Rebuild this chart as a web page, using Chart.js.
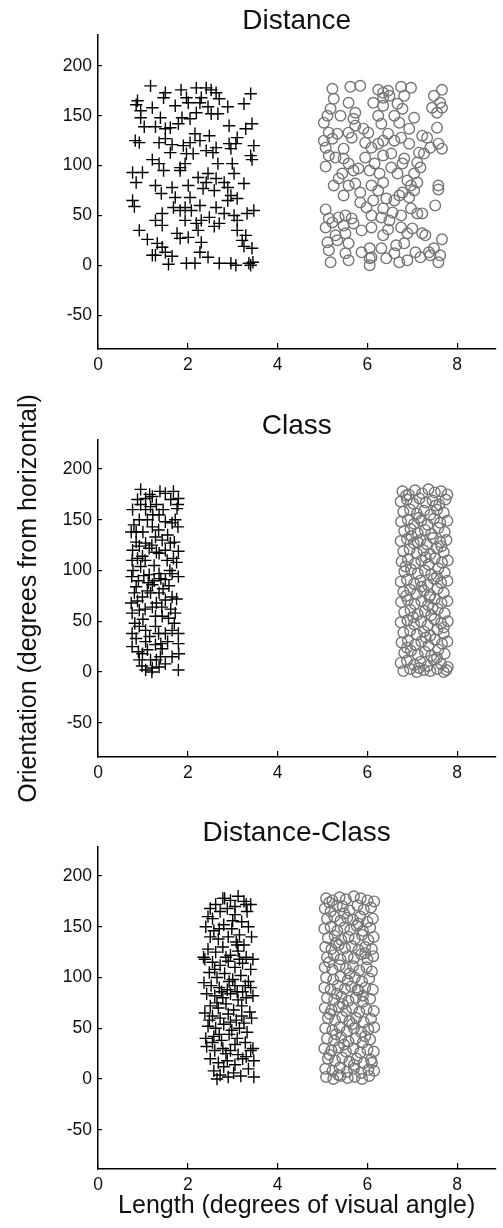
<!DOCTYPE html>
<html><head><meta charset="utf-8">
<script src="https://cdn.jsdelivr.net/npm/chart.js@4.4.1/dist/chart.umd.min.js"></script>
<style>
html,body{margin:0;padding:0;background:#fff;}
body{width:503px;height:1228px;position:relative;overflow:hidden;}
canvas{position:absolute;left:0;}
</style></head><body>
<canvas id="c1" width="503" height="385" style="top:0px;width:503px;height:385px"></canvas>
<canvas id="c2" width="503" height="425" style="top:385px;width:503px;height:425px"></canvas>
<canvas id="c3" width="503" height="438" style="top:790px;width:503px;height:438px"></canvas>
<script>
// ---- tick labels / titles ----
const panelTitles = ['Distance', 'Class', 'Distance-Class'];
const xTitle = 'Length (degrees of visual angle)';
const yTitle = 'Orientation (degrees from horizontal)';
const xTickStep = 2;
const yTickStep = 50;

// ---- data: [length, orientation] ----
const distanceShort = [[1.17,180],[1.50,173],[1.85,176],[2.19,178],[2.41,178],[2.52,176],[2.63,173],[3.40,172],[0.88,165],[1.46,168],[1.97,168],[2.30,168],[2.70,167],[3.25,162],[0.85,161],[1.21,158],[1.72,160],[2.01,163],[2.27,163],[2.45,159],[2.89,159],[0.95,155],[2.19,153],[2.52,152],[2.67,152],[1.87,148],[2.05,147],[0.95,148],[1.39,148],[1.03,139],[1.28,139],[1.61,138],[1.79,142],[2.92,140],[3.29,137],[3.43,142],[1.50,137],[2.16,132],[2.48,130],[3.10,128],[1.50,127],[1.36,123],[0.83,125],[0.92,123],[1.65,121],[1.90,120],[2.05,123],[2.27,125],[2.63,118],[2.92,122],[3.07,122],[3.47,120],[1.61,113],[2.41,115],[2.56,113],[2.96,117],[3.40,110],[1.97,112],[2.12,112],[1.21,106],[1.36,102],[1.46,95],[1.83,98],[1.94,102],[2.67,102],[2.99,102],[3.43,106],[0.77,93],[0.99,93],[0.85,83],[1.83,95],[2.45,92],[2.63,87],[2.81,83],[3.03,92],[3.25,82],[2.23,88],[1.28,80],[1.65,78],[2.01,80],[2.34,77],[2.41,83],[2.59,75],[2.89,78],[2.96,70],[1.41,72],[0.77,65],[0.81,59],[1.72,68],[2.05,68],[1.94,58],[1.68,58],[2.89,65],[3.10,67],[2.27,60],[1.43,52],[1.83,55],[2.08,55],[2.63,58],[2.81,52],[3.03,50],[3.47,55],[1.28,45],[1.94,45],[2.30,45],[2.48,48],[2.70,42],[3.10,45],[3.32,52],[1.43,40],[2.19,42],[2.59,39],[0.92,35],[1.76,32],[2.01,28],[2.23,35],[3.10,35],[3.29,30],[1.10,26],[1.32,22],[1.83,27],[2.30,23],[3.21,25],[3.43,17],[3.25,19],[1.43,18],[1.28,10],[1.50,13],[1.65,9],[2.27,13],[2.45,8],[1.21,10],[1.57,1],[1.97,2],[2.16,2],[2.70,2],[2.96,2],[3.07,0],[3.36,2],[3.40,0],[3.45,3]];
const distanceLong = [[5.22,177],[5.62,179],[5.84,180],[6.24,176],[6.35,173],[6.46,175],[6.75,179],[6.97,178],[7.66,176],[5.25,167],[6.35,168],[6.49,170],[6.82,170],[7.48,170],[5.18,157],[5.58,163],[5.73,153],[6.13,163],[6.35,160],[6.67,162],[6.78,157],[7.44,158],[7.66,158],[7.62,163],[5.11,150],[5.69,147],[6.24,150],[6.60,150],[7.04,148],[5.40,150],[7.55,153],[5.03,143],[5.73,140],[5.91,137],[6.31,142],[6.71,143],[6.93,137],[7.55,138],[5.58,133],[5.14,133],[5.33,132],[6.02,133],[6.46,132],[7.22,130],[7.33,128],[5.03,125],[5.22,127],[5.65,128],[5.95,123],[6.09,118],[6.24,122],[6.35,125],[6.60,125],[6.75,128],[6.93,122],[7.15,113],[7.40,118],[7.58,122],[7.66,117],[5.07,118],[5.47,117],[5.14,110],[5.29,108],[5.47,107],[5.95,108],[6.35,110],[6.53,112],[6.82,107],[7.11,103],[7.26,112],[5.07,99],[5.58,102],[5.80,97],[6.16,102],[6.53,98],[6.78,102],[7.18,98],[5.44,92],[5.36,87],[5.69,95],[6.05,95],[6.27,92],[6.67,92],[7.04,92],[6.89,85],[5.25,80],[5.73,82],[6.09,80],[6.35,83],[7.11,83],[7.58,80],[6.97,80],[5.47,70],[5.84,73],[6.24,75],[6.71,70],[6.78,73],[7.04,75],[7.58,76],[5.84,63],[6.13,65],[6.42,67],[6.60,65],[6.93,68],[5.58,80],[5.07,56],[5.98,58],[6.35,57],[6.56,53],[6.97,57],[7.11,52],[7.51,60],[5.36,48],[5.51,50],[5.65,47],[6.09,50],[6.31,48],[6.49,45],[6.75,50],[7.22,52],[5.14,47],[5.07,38],[5.22,43],[5.47,40],[5.69,42],[5.87,35],[6.09,38],[6.46,36],[6.75,38],[7.00,37],[7.22,32],[5.51,32],[5.29,30],[6.35,30],[6.89,32],[7.66,26],[7.29,30],[5.11,23],[5.33,25],[5.58,22],[6.05,17],[6.31,17],[6.64,20],[6.82,22],[7.07,13],[7.37,13],[7.48,17],[5.14,15],[5.51,12],[5.87,13],[6.60,12],[6.09,8],[7.62,10],[5.18,3],[5.58,5],[6.05,0],[6.42,7],[6.71,3],[6.89,5],[7.18,8],[7.40,10],[7.58,3],[6.05,7]];
const classShort = [[0.77,160],[0.88,170],[1.06,171],[1.21,173],[1.50,176],[1.79,171],[1.76,161],[1.17,163],[1.36,155],[0.74,138],[0.85,138],[1.06,127],[1.28,133],[1.50,148],[1.65,147],[1.78,143],[0.77,120],[0.92,124],[1.14,122],[1.36,117],[1.61,127],[1.79,119],[0.76,110],[0.95,104],[1.14,96],[0.75,94],[0.85,84],[1.21,86],[1.50,91],[1.65,97],[1.79,94],[1.17,78],[1.36,78],[1.50,71],[1.65,74],[0.74,68],[0.76,58],[0.92,61],[1.28,55],[1.43,55],[1.57,53],[1.72,58],[0.76,38],[0.85,33],[1.06,30],[1.28,27],[1.43,23],[1.65,41],[1.50,38],[1.79,38],[0.76,25],[0.92,12],[1.06,2],[1.21,4],[1.36,5],[1.79,2],[1.80,18],[1.79,28],[0.99,18],[1.39,15],[1.17,12],[0.92,45],[1.06,41],[1.28,45],[0.81,78],[0.99,74],[1.21,64],[1.36,97],[1.54,110],[0.99,114],[1.21,143],[1.43,130],[0.92,150],[1.06,160],[0.80,145],[0.95,165],[1.10,150],[1.30,165],[1.45,160],[1.62,170],[1.72,150],[0.85,128],[1.00,138],[1.20,125],[1.35,140],[1.55,135],[1.70,128],[0.78,100],[0.90,90],[1.05,110],[1.25,105],[1.40,92],[1.60,100],[1.75,108],[0.88,70],[1.10,80],[1.30,68],[1.45,82],[1.62,62],[1.75,72],[0.82,48],[1.00,52],[1.15,35],[1.35,38],[1.55,30],[1.70,48],[0.90,20],[1.10,22],[1.30,12],[1.50,8],[1.65,15],[1.20,0],[0.98,6],[1.40,28],[1.25,90],[1.05,62],[1.50,120],[1.15,175],[1.38,178],[0.95,180],[1.68,178],[1.78,165],[1.12,88],[1.30,118],[1.58,85],[0.88,112],[1.42,64],[1.22,155],[1.02,95],[1.68,112]];
const classLong = [[6.78,178],[6.92,175],[7.06,179],[7.22,176],[7.36,180],[7.50,177],[7.64,178],[7.78,175],[6.74,168],[6.88,170],[7.02,166],[7.16,171],[7.30,167],[7.45,169],[7.60,165],[7.74,170],[6.80,158],[6.95,160],[7.10,156],[7.26,159],[7.40,155],[7.55,160],[7.70,157],[6.75,148],[6.90,150],[7.04,146],[7.20,149],[7.34,145],[7.48,151],[7.62,147],[7.78,149],[6.82,139],[6.96,141],[7.12,137],[7.28,140],[7.42,136],[7.58,142],[7.72,138],[6.74,129],[6.88,131],[7.03,127],[7.18,130],[7.32,126],[7.46,132],[7.62,128],[7.76,130],[6.80,119],[6.94,121],[7.10,117],[7.25,120],[7.40,116],[7.55,122],[7.70,118],[6.76,109],[6.90,111],[7.06,107],[7.20,110],[7.36,106],[7.50,112],[7.66,108],[7.79,110],[6.82,99],[6.97,101],[7.12,97],[7.28,100],[7.42,96],[7.58,102],[7.72,98],[6.74,89],[6.88,91],[7.04,87],[7.18,90],[7.34,86],[7.48,92],[7.64,88],[7.78,90],[6.80,79],[6.95,81],[7.10,77],[7.26,80],[7.40,76],[7.56,82],[7.70,78],[6.75,69],[6.90,71],[7.05,67],[7.20,70],[7.35,66],[7.50,72],[7.65,68],[7.78,70],[6.82,59],[6.96,61],[7.12,57],[7.28,60],[7.42,56],[7.57,62],[7.72,58],[6.74,49],[6.89,51],[7.04,47],[7.19,50],[7.34,46],[7.49,52],[7.64,48],[7.79,50],[6.80,39],[6.95,41],[7.10,37],[7.26,40],[7.40,36],[7.56,42],[7.70,38],[6.76,29],[6.90,31],[7.06,27],[7.20,30],[7.36,26],[7.50,32],[7.66,28],[7.78,30],[6.82,19],[6.97,21],[7.12,17],[7.28,20],[7.42,16],[7.58,22],[7.72,18],[6.74,9],[6.88,11],[7.04,7],[7.18,10],[7.34,6],[7.48,12],[7.64,8],[7.79,5],[6.80,1],[6.95,3],[7.10,0],[7.26,2],[7.40,1],[7.55,3],[7.70,0],[6.86,174],[7.52,164],[7.15,152],[6.98,134],[7.65,124],[7.30,113],[6.85,104],[7.55,94],[7.20,84],[6.86,75],[7.45,63],[7.02,54],[7.70,44],[7.30,34],[6.88,24],[7.55,14],[7.15,4],[7.76,2],[7.38,74],[7.12,128]];
const distClassShort = [[2.78,178],[2.95,176],[3.12,180],[3.30,172],[3.32,165],[2.62,172],[2.45,160],[2.55,158],[2.72,165],[2.88,168],[3.05,162],[3.20,155],[2.40,150],[2.58,146],[2.80,152],[2.98,148],[3.15,142],[3.35,150],[2.50,140],[2.68,138],[2.90,140],[3.08,135],[3.25,132],[3.42,140],[2.45,128],[2.62,125],[2.78,130],[2.95,122],[3.12,126],[3.30,120],[3.45,118],[2.38,118],[2.55,115],[2.72,112],[2.90,116],[3.05,110],[3.22,114],[3.40,108],[2.48,105],[2.65,100],[2.82,104],[3.00,98],[3.18,102],[3.35,96],[2.36,95],[2.52,92],[2.70,90],[2.88,88],[3.05,92],[3.22,86],[3.40,90],[2.42,84],[2.60,82],[2.78,80],[2.95,84],[3.12,78],[3.30,80],[2.50,72],[2.68,70],[2.85,74],[3.02,68],[3.20,72],[3.38,66],[2.38,65],[2.55,62],[2.72,60],[2.90,64],[3.08,58],[3.25,55],[3.42,60],[2.45,52],[2.62,50],[2.80,54],[2.98,48],[3.15,50],[3.32,46],[2.40,40],[2.58,42],[2.75,38],[2.92,44],[3.10,40],[3.28,36],[3.45,30],[2.42,32],[2.60,28],[2.78,30],[2.85,25],[2.95,28],[3.12,24],[3.30,22],[2.50,20],[2.68,16],[2.88,18],[3.05,14],[3.22,20],[2.58,8],[2.72,4],[2.90,2],[3.02,6],[3.18,3],[2.65,0],[3.47,2],[3.47,18],[3.40,28],[2.82,178],[3.05,170],[2.50,168],[3.25,175],[3.40,172],[2.70,148],[3.00,156],[2.85,120],[3.15,118],[2.60,108],[2.92,96],[2.75,86],[3.28,92],[3.45,82],[2.65,75],[3.10,86],[2.48,58],[2.95,56],[3.20,62],[2.70,44],[3.05,34],[2.55,36],[2.80,12],[3.35,10],[3.10,132],[2.35,120]];
const distClassLong = [[5.08,178],[5.22,176],[5.38,179],[5.52,177],[5.70,180],[5.85,178],[6.00,176],[6.15,175],[5.05,168],[5.18,165],[5.32,171],[5.45,170],[5.60,166],[5.78,171],[5.92,167],[6.08,169],[5.10,158],[5.26,160],[5.40,156],[5.55,159],[5.68,157],[5.84,160],[6.00,155],[6.12,158],[5.04,148],[5.18,150],[5.33,146],[5.48,149],[5.62,147],[5.76,151],[5.90,146],[6.06,149],[5.12,139],[5.27,141],[5.42,137],[5.58,140],[5.72,138],[5.88,142],[6.02,137],[6.14,140],[5.06,130],[5.20,128],[5.36,132],[5.50,129],[5.65,131],[5.80,127],[5.95,130],[6.10,128],[5.10,120],[5.25,122],[5.40,118],[5.56,121],[5.70,119],[5.86,123],[6.00,118],[6.13,121],[5.05,110],[5.22,108],[5.38,112],[5.52,109],[5.68,111],[5.82,107],[5.98,110],[6.10,106],[5.08,100],[5.24,98],[5.40,101],[5.56,97],[5.72,100],[5.88,96],[6.04,99],[5.04,90],[5.18,88],[5.34,92],[5.50,89],[5.64,91],[5.80,87],[5.95,90],[6.12,88],[5.10,80],[5.26,78],[5.42,81],[5.58,77],[5.74,80],[5.90,76],[6.06,79],[5.05,70],[5.20,68],[5.36,71],[5.52,67],[5.66,70],[5.82,66],[5.98,69],[6.14,67],[5.12,60],[5.28,58],[5.44,61],[5.60,57],[5.75,60],[5.92,56],[6.08,59],[5.06,50],[5.22,48],[5.38,51],[5.54,47],[5.70,50],[5.86,46],[6.02,49],[6.15,51],[5.10,40],[5.26,38],[5.42,41],[5.58,37],[5.74,40],[5.90,36],[6.06,39],[5.04,30],[5.20,28],[5.36,31],[5.52,27],[5.68,30],[5.84,26],[6.00,29],[6.14,27],[5.12,20],[5.28,18],[5.44,21],[5.60,17],[5.76,20],[5.92,16],[6.08,19],[5.06,10],[5.22,8],[5.38,11],[5.54,7],[5.70,10],[5.86,6],[6.02,9],[6.15,8],[5.08,2],[5.24,0],[5.40,3],[5.56,1],[5.72,2],[5.88,0],[6.04,3],[5.15,174],[5.48,163],[5.80,153],[5.30,134],[5.95,124],[5.15,115],[5.60,104],[5.32,84],[5.90,82],[5.45,74],[5.16,64],[5.66,54],[5.30,44],[5.95,42],[5.48,34],[5.15,24],[5.70,14],[5.35,4],[6.10,16],[5.78,88]];

// ---- axis ranges per panel ----
const xRange = [0, 8.85];
const yRanges = [[-84, 231], [-83.7, 228.6], [-88.7, 228.6]];

const FONT = "'Liberation Sans', Arial, Helvetica, sans-serif";
Chart.defaults.font.family = FONT;

function toPts(arr){ return arr.map(p => ({x: p[0], y: p[1]})); }

function makePanel(id, title, shortPts, longPts, yr, L) {
  return new Chart(document.getElementById(id), {
    type: 'scatter',
    data: { datasets: [
      { data: toPts(shortPts), pointStyle: 'cross', pointRadius: 6.2, pointHoverRadius: 6.2,
        pointBorderColor: '#000', pointBackgroundColor: '#000', pointBorderWidth: 1.4, showLine: false },
      { data: toPts(longPts), pointStyle: 'circle', pointRadius: 5.3, pointHoverRadius: 5.3,
        pointBorderColor: '#767676', pointBackgroundColor: 'rgba(0,0,0,0)', pointBorderWidth: 1.4, showLine: false }
    ]},
    options: {
      responsive: false, animation: false, devicePixelRatio: 1,
      layout: { padding: 0 },
      plugins: {
        legend: { display: false }, tooltip: { enabled: false },
        title: { display: true, text: title, fullSize: false, color: '#111',
          font: { family: FONT, size: 28, lineHeight: 1, weight: 'normal' },
          padding: { top: L.titleTop, bottom: 0 } }
      },
      scales: {
        x: {
          type: 'linear', position: 'bottom', min: xRange[0], max: xRange[1],
          afterFit: s => { s.height = L.xH; },
          ticks: { stepSize: xTickStep, includeBounds: false, padding: 12, color: '#111', maxRotation: 0,
            font: { family: FONT, size: 17.5 } },
          grid: { display: true, drawOnChartArea: false, drawTicks: true, tickLength: -6, color: '#000', lineWidth: 1.2 },
          border: { display: true, color: '#000', width: 1.5 },
          title: L.xTitle ? { display: true, text: xTitle, color: '#111',
            font: { family: FONT, size: 25, lineHeight: 1.2 }, padding: { top: 0, bottom: 7 } } : { display: false }
        },
        y: {
          type: 'linear', position: 'left', min: yr[0], max: yr[1],
          afterFit: s => { s.width = 98; },
          ticks: { stepSize: yTickStep, includeBounds: false, padding: 10, color: '#111',
            font: { family: FONT, size: 17.5 } },
          grid: { display: true, drawOnChartArea: false, drawTicks: true, tickLength: -4, color: '#000', lineWidth: 1.2 },
          border: { display: true, color: '#000', width: 1.5 },
          title: L.yTitle ? { display: true, text: yTitle, color: '#111',
            font: { family: FONT, size: 25, lineHeight: 1.2 }, padding: { top: 14, bottom: 0 } } : { display: false }
        }
      }
    }
  });
}

makePanel('c1', panelTitles[0], distanceShort, distanceLong, yRanges[0], { titleTop: 7, xH: 36, xTitle: false, yTitle: false });
makePanel('c2', panelTitles[1], classShort, classLong, yRanges[1], { titleTop: 27, xH: 53, xTitle: false, yTitle: true });
makePanel('c3', panelTitles[2], distClassShort, distClassLong, yRanges[2], { titleTop: 29, xH: 59, xTitle: true, yTitle: false });
</script>
</body></html>
